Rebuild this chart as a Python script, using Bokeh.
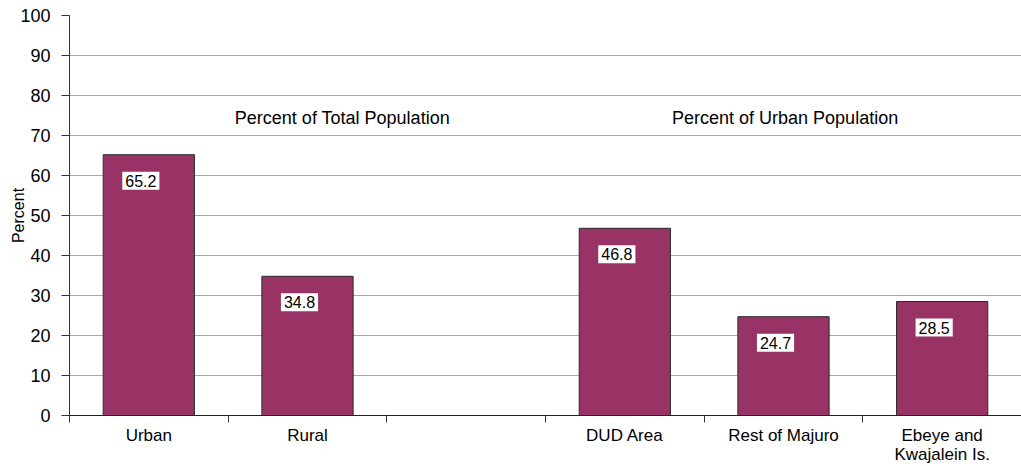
from bokeh.plotting import figure
from bokeh.models import Range1d, FixedTicker, Label, ColumnDataSource
from bokeh.core.properties import value
from bokeh.embed import file_html
from bokeh.resources import INLINE

categories = ["Urban", "Rural", "", "DUD Area", "Rest of Majuro", "Ebeye and\nKwajalein Is."]
percent = [65.2, 34.8, None, 46.8, 24.7, 28.5]
group_titles = ["Percent of Total Population", "Percent of Urban Population"]
y_ticks = [0, 10, 20, 30, 40, 50, 60, 70, 80, 90, 100]

FONT = "Liberation Sans"
BAR = "#993366"

centers = [i + 0.5 for i in range(len(categories))]
bounds = [float(i) for i in range(len(categories) + 1)]

xs = [c for c, v in zip(centers, percent) if v is not None]
tops = [v for v in percent if v is not None]
src = ColumnDataSource(dict(x=xs, top=tops, lab=["%.1f" % v for v in tops]))

p = figure(width=1021, height=466, x_range=Range1d(0, len(categories)),
           y_range=Range1d(0, 100), output_backend="svg", toolbar_location=None,
           min_border_left=69, min_border_right=0, min_border_top=15, min_border_bottom=51)
p.outline_line_color = None
p.background_fill_color = "white"

p.vbar(x="x", top="top", width=0.575, bottom=0, source=src,
       fill_color=BAR, line_color="#2a2a2a", line_width=1)

p.text(x="x", y="top", text="lab", source=src, x_offset=-8, y_offset=26,
       text_align="center", text_baseline="middle", text_font=value(FONT),
       text_font_size="16px", text_color="black",
       background_fill_color="white", padding=3)

# axes
p.xgrid.visible = False
p.ygrid.grid_line_color = "#a8a8a8"
p.ygrid.grid_line_width = 1
p.ygrid.ticker = FixedTicker(ticks=y_ticks)

p.yaxis.ticker = FixedTicker(ticks=y_ticks)
p.yaxis.major_tick_out = 8
p.yaxis.major_tick_in = 0
p.yaxis.minor_tick_out = 0
p.yaxis.minor_tick_in = 0
p.yaxis.major_label_standoff = 11
p.yaxis.major_label_text_font = FONT
p.yaxis.major_label_text_font_size = "18px"
p.yaxis.major_label_text_color = "black"
p.yaxis.axis_line_color = "#333333"
p.yaxis.major_tick_line_color = "#333333"
p.yaxis.axis_label = "Percent"
p.yaxis.axis_label_text_font = FONT
p.yaxis.axis_label_text_font_size = "16px"
p.yaxis.axis_label_text_font_style = "normal"
p.yaxis.axis_label_text_color = "black"
p.yaxis.axis_label_standoff = -10

p.xaxis.ticker = FixedTicker(ticks=centers, minor_ticks=bounds)
p.xaxis.major_label_overrides = {c: lab for c, lab in zip(centers, categories)}
p.xaxis.major_tick_out = 0
p.xaxis.major_tick_in = 0
p.xaxis.minor_tick_out = 7
p.xaxis.minor_tick_in = 0
p.xaxis.minor_tick_line_color = "#333333"
p.xaxis.axis_line_color = "#222222"
p.xaxis.major_label_standoff = 3
p.xaxis.major_label_text_font = FONT
p.xaxis.major_label_text_font_size = "17px"
p.xaxis.major_label_text_color = "black"
p.xaxis.major_label_text_line_height = 1.0

for gx, title in zip([1.72, 4.51], group_titles):
    p.add_layout(Label(x=gx, y=74.3, text=title, text_align="center",
                       text_baseline="middle", text_font=FONT, text_font_size="18px",
                       text_color="black"))

open("out.html", "w").write(file_html(p, INLINE))
